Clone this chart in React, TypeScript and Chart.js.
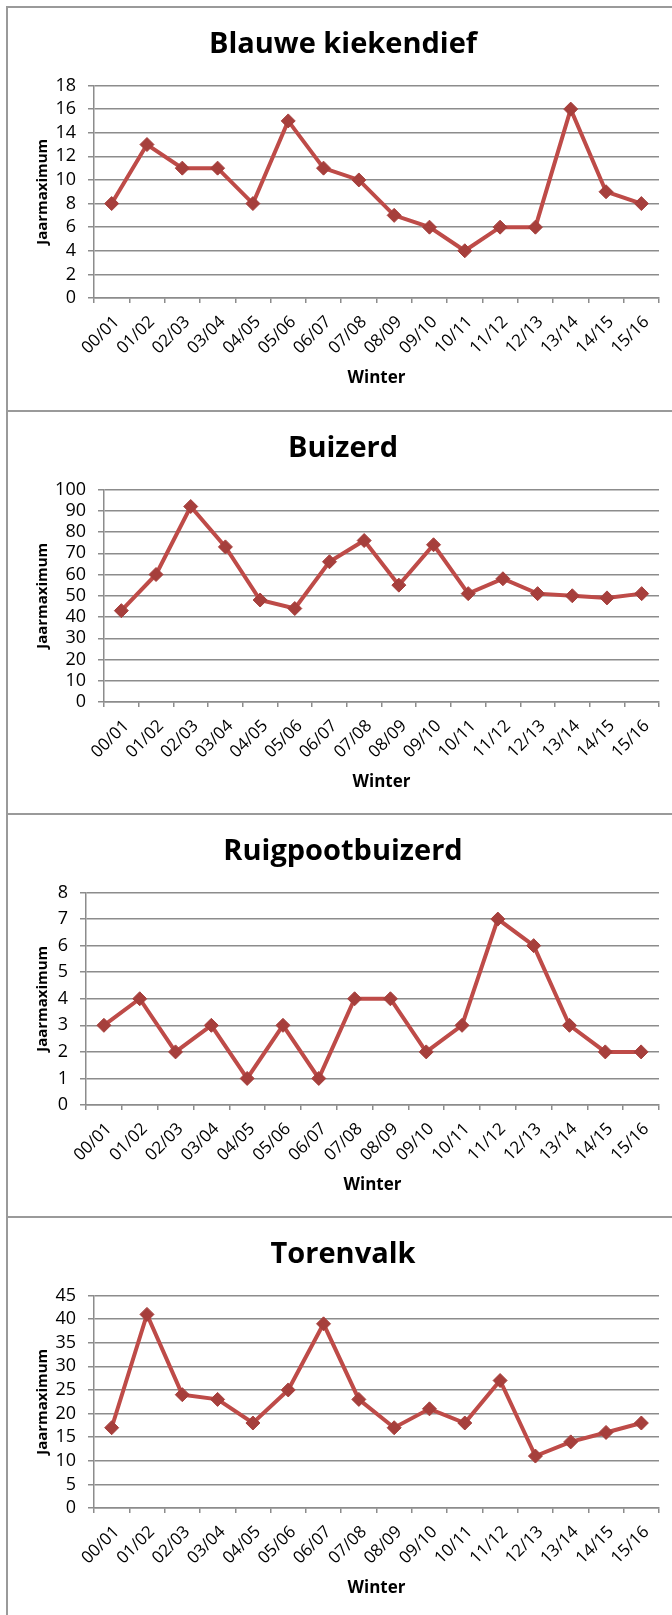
import React, { useEffect, useRef } from 'react';
import { Chart, registerables } from 'chart.js';

Chart.register(...registerables);

// Winter seasons on the category axis
const winters = [
  '00/01', '01/02', '02/03', '03/04', '04/05', '05/06', '06/07', '07/08',
  '08/09', '09/10', '10/11', '11/12', '12/13', '13/14', '14/15', '15/16',
];

// Yearly maximum counts per species
const blauweKiekendief = [8, 13, 11, 11, 8, 15, 11, 10, 7, 6, 4, 6, 6, 16, 9, 8];
const buizerd = [43, 60, 92, 73, 48, 44, 66, 76, 55, 74, 51, 58, 51, 50, 49, 51];
const ruigpootbuizerd = [3, 4, 2, 3, 1, 3, 1, 4, 4, 2, 3, 7, 6, 3, 2, 2];
const torenvalk = [17, 41, 24, 23, 18, 25, 39, 23, 17, 21, 18, 27, 11, 14, 16, 18];

// Panel titles and y-axis ranges
const speciesNames = ['Blauwe kiekendief', 'Buizerd', 'Ruigpootbuizerd', 'Torenvalk'];
const speciesSeries = [blauweKiekendief, buizerd, ruigpootbuizerd, torenvalk];
const yMaxima = [18, 100, 8, 45];
const yStepSizes = [2, 10, 1, 5];

const yAxisLabel = 'Jaarmaximum';
const xAxisLabel = 'Winter';

const FONT = '"Open Sans", Lato, sans-serif';
const GRID = '#8c8c8c';
const LINE = '#BE4B48';
const MARKER = '#A63F3C';

const PANEL_TOPS = [6, 410, 813, 1216];
const Y_SCALE_WIDTHS = [86, 96, 78, 86];
const CANVAS_W = 664;
const CANVAS_H = 402;

// Draws the chart heading and the widened y-axis caption
const headingPlugin = {
  id: 'panelHeading',
  afterDraw(chart: any, _args: any, opts: any) {
    const ctx = chart.ctx;
    const area = chart.chartArea;

    ctx.save();
    ctx.font = `bold 29px ${FONT}`;
    ctx.fillStyle = '#000';
    ctx.textAlign = 'center';
    ctx.textBaseline = 'alphabetic';
    ctx.fillText(opts.text, opts.x, opts.y);
    ctx.restore();

    ctx.save();
    ctx.font = `bold 15px ${FONT}`;
    ctx.fillStyle = '#000';
    const plain = ctx.measureText(opts.yLabel).width;
    const stretch = plain > 0 ? opts.yLabelWidth / plain : 1;
    ctx.translate(opts.yLabelX, (area.top + area.bottom) / 2);
    ctx.rotate(-Math.PI / 2);
    ctx.scale(stretch, 1);
    ctx.textAlign = 'center';
    ctx.textBaseline = 'middle';
    ctx.fillText(opts.yLabel, 0, 0);
    ctx.restore();
  },
};

function Panel({ index }: { index: number }) {
  const ref = useRef<HTMLCanvasElement | null>(null);

  useEffect(() => {
    if (!ref.current) return;
    const yWidth = Y_SCALE_WIDTHS[index];
    const chart = new Chart(ref.current, {
      type: 'line',
      data: {
        labels: winters,
        datasets: [
          {
            data: speciesSeries[index],
            borderColor: LINE,
            borderWidth: 4,
            tension: 0,
            fill: false,
            pointStyle: 'rectRot',
            pointRadius: 7,
            pointBackgroundColor: MARKER,
            pointBorderColor: MARKER,
            pointBorderWidth: 1,
          },
        ],
      },
      options: {
        responsive: false,
        animation: false,
        layout: { padding: { top: 77.5, right: 13, bottom: 0, left: 0 } },
        plugins: {
          legend: { display: false },
          tooltip: { enabled: false },
          title: { display: false },
          panelHeading: {
            text: speciesNames[index],
            x: 335,
            y: 45,
            yLabel: yAxisLabel,
            yLabelX: 35,
            yLabelWidth: 106,
          },
        } as any,
        scales: {
          x: {
            type: 'category',
            offset: true,
            grid: {
              display: true,
              offset: true,
              drawOnChartArea: false,
              drawTicks: true,
              tickLength: 5,
              color: GRID,
              lineWidth: 1.5,
            },
            border: { display: true, color: GRID, width: 1.5 },
            ticks: {
              autoSkip: false,
              minRotation: 45,
              maxRotation: 45,
              padding: 9,
              labelOffset: 5,
              color: '#000',
              font: { family: FONT, size: 17 },
            },
            title: {
              display: true,
              text: xAxisLabel,
              color: '#000',
              font: { family: FONT, size: 17, weight: 'bold' },
              padding: { top: 0, bottom: 22 },
            },
            afterFit: (scale: any) => {
              scale.height = 112;
            },
          },
          y: {
            min: 0,
            max: yMaxima[index],
            ticks: {
              stepSize: yStepSizes[index],
              autoSkip: false,
              padding: 12,
              color: '#000',
              font: { family: FONT, size: 18 },
            },
            grid: {
              color: GRID,
              lineWidth: 1.5,
              drawTicks: true,
              tickLength: 6,
            },
            border: { display: true, color: GRID, width: 1.5 },
            title: { display: false },
            afterFit: (scale: any) => {
              scale.width = yWidth;
            },
          },
        },
      },
      plugins: [headingPlugin],
    });
    return () => chart.destroy();
  }, [index]);

  return (
    <div
      style={{
        position: 'absolute',
        left: 6,
        top: PANEL_TOPS[index],
        width: 666,
        height: 404,
        boxSizing: 'border-box',
        borderTop: '2px solid #9a9a9a',
        borderLeft: '2px solid #9a9a9a',
        background: 'transparent',
      }}
    >
      <canvas ref={ref} width={CANVAS_W} height={CANVAS_H} style={{ display: 'block' }} />
    </div>
  );
}

export default function App() {
  return (
    <div
      style={{
        position: 'fixed',
        left: 0,
        top: 0,
        width: 672,
        height: 1615,
        overflow: 'hidden',
        background: '#fff',
      }}
    >
      {speciesNames.map((_, i) => (
        <Panel key={i} index={i} />
      ))}
    </div>
  );
}
